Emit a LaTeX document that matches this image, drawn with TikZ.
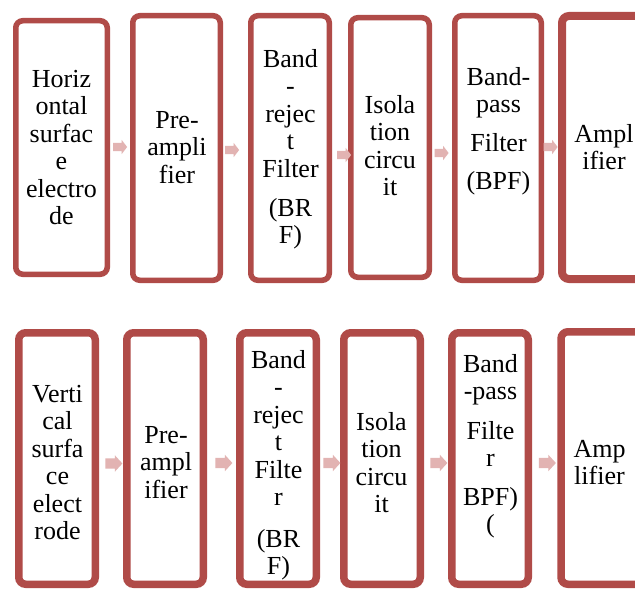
\documentclass[tikz,border=0pt]{standalone}
\usepackage{fontspec}
\setmainfont{Liberation Serif}
\usetikzlibrary{shapes.arrows,shadows}
\definecolor{bordred}{RGB}{176,75,72}
\definecolor{arrpink}{RGB}{226,179,178}
\begin{document}
\begin{tikzpicture}[x=1pt,y=-1pt,
  box/.style={draw=bordred, fill=white, rounded corners=7pt, inner sep=0pt, outer sep=0pt, line width=#1},
  box/.default=5.5pt,
  shbox/.style={box=#1, drop shadow={shadow xshift=-2pt, shadow yshift=-3pt, opacity=0.2, fill=gray}},
  shbox/.default=7.5pt,
  txt/.style={font=\fontsize{26}{27.5}\selectfont, align=center, anchor=north, inner sep=0pt},
  sarr/.style={single arrow, fill=arrpink, draw=none, inner xsep=0pt, inner ysep=4pt, minimum width=0pt, minimum height=14pt, single arrow head extend=3pt, single arrow tip angle=105},
  larr/.style={single arrow, fill=arrpink, draw=none, inner xsep=0pt, inner ysep=5pt, minimum width=0pt, minimum height=17pt, single arrow head extend=3pt, single arrow tip angle=95}
]
\clip (0,0) rectangle (635,594);
\fill[white] (0,0) rectangle (635,594);
% ---------- top row ----------
\node[box, minimum width=91.5pt, minimum height=253.5pt] (h1) at (61.5,147.5) {};
\node[box, minimum width=87.5pt, minimum height=264.5pt] (h2) at (176.5,148) {};
\node[box, minimum width=78.5pt, minimum height=264.5pt] (h3) at (290,148) {};
\node[box, minimum width=78.5pt, minimum height=259.5pt] (h4) at (390,147.5) {};
\node[box, minimum width=86.5pt, minimum height=264.5pt] (h5) at (498,148) {};
\node[shbox=8pt, minimum width=150pt, minimum height=263pt] (h6) at (637,147.5) {};

\node[txt] (ht1) at (61.5,67.75) {\strut Horiz\\ontal\\surfac\\e\\electro\\de};
\node[txt] (ht2) at (177,108.75) {\strut Pre-\\ampli\\fier};
\node[txt] (ht3) at (290.5,47.75) {\strut Band\\-\\rejec\\t\\Filter\\[11.5pt](BR\\F)};
\node[txt] (ht4) at (390,93.75) {\strut Isola\\tion\\circu\\it};
\node[txt] (ht5) at (498.5,65.75) {\strut Band-\\pass\\[11pt]Filter\\[11pt](BPF)};
\node[txt] (ht6) at (604,122.75) {\strut Ampl\\ifier};

\node[sarr] (ha1) at (118.5,147) {};
\node[sarr] (ha2) at (230.5,150) {};
\node[sarr] (ha3) at (342.5,155) {};
\node[sarr] (ha4) at (440,153) {};
\node[sarr] (ha5) at (549,147) {};

% ---------- bottom row ----------
\node[shbox, minimum width=76.5pt, minimum height=251.5pt] (v1) at (57,458.5) {};
\node[shbox, minimum width=76.5pt, minimum height=251.5pt] (v2) at (165,458.5) {};
\node[shbox, minimum width=76.5pt, minimum height=251.5pt] (v3) at (278,458.5) {};
\node[shbox, minimum width=76.5pt, minimum height=251.5pt] (v4) at (382,458.5) {};
\node[shbox, minimum width=76.5pt, minimum height=251.5pt] (v5) at (490,458.5) {};
\node[shbox, minimum width=150pt, minimum height=252.5pt] (v6) at (636,458) {};

\node[txt] (vt1) at (57.5,382.75) {\strut Verti\\cal\\surfa\\ce\\elect\\rode};
\node[txt] (vt2) at (166,423.75) {\strut Pre-\\ampl\\ifier};
\node[txt] (vt3) at (278.5,348.75) {\strut Band\\-\\rejec\\t\\Filte\\r\\[14pt](BR\\F)};
\node[txt] (vt4) at (381.5,410.75) {\strut Isola\\tion\\circu\\it};
\node[txt] (vt5) at (490.5,352.75) {\strut Band\\-pass\\[12pt]Filte\\r\\[11pt]BPF)\\(};
\node[txt] (vt6) at (599.5,437.75) {\strut Amp\\lifier};

\node[larr] (va1) at (111.5,463.5) {};
\node[larr] (va2) at (221.5,463) {};
\node[larr] (va3) at (329.5,463) {};
\node[larr] (va4) at (436.5,463) {};
\node[larr] (va5) at (545,463) {};
\end{tikzpicture}
\end{document}
